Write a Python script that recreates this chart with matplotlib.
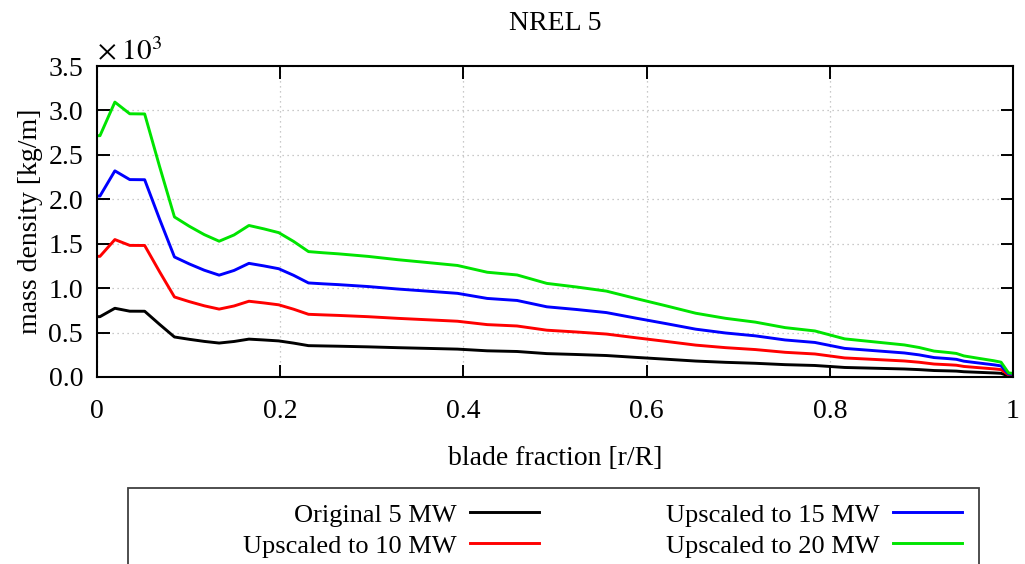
import matplotlib
matplotlib.use("Agg")
import matplotlib.pyplot as plt
from matplotlib.patches import Rectangle

# blade stations (r/R)
blade_fraction = [0.0, 0.00325, 0.01951, 0.03577, 0.05203, 0.06829, 0.08455, 0.10081, 0.11707, 0.13335,
                  0.14959, 0.16585, 0.18211, 0.19837, 0.21465, 0.23089, 0.24716, 0.26342, 0.29595, 0.32846,
                  0.36098, 0.3935, 0.42602, 0.45855, 0.49106, 0.52358, 0.5561, 0.58862, 0.62115, 0.65366,
                  0.68618, 0.7187, 0.75122, 0.78376, 0.81626, 0.84878, 0.8813, 0.89756, 0.91382, 0.93008,
                  0.93821, 0.94636, 0.95447, 0.9626, 0.97073, 0.97886, 0.98699, 0.99512, 1.0]

# mass density [kg/m]
mass_5mw = [678.9, 678.9, 773.4, 740.6, 740.0, 592.5, 450.3, 424.1, 400.6, 382.1,
            399.7, 426.3, 416.8, 406.2, 381.4, 352.8, 349.5, 346.5, 339.3, 330.0,
            322.0, 313.8, 294.7, 287.1, 263.3, 253.2, 241.7, 220.6, 200.3, 179.4,
            165.1, 154.4, 138.9, 129.6, 107.3, 98.8, 90.2, 83.0, 72.9, 68.8,
            66.3, 59.3, 55.9, 52.5, 49.1, 45.8, 41.7, 11.5, 10.3]

mass_10mw = [1357.9, 1357.9, 1546.7, 1481.1, 1480.1, 1185.0, 900.6, 848.1, 801.3, 764.1,
             799.3, 852.6, 833.6, 812.4, 762.8, 705.6, 699.0, 693.1, 678.7, 660.0,
             644.0, 627.6, 589.5, 574.2, 526.7, 506.4, 483.3, 441.3, 400.6, 358.8,
             330.2, 308.8, 277.9, 259.1, 214.5, 197.6, 180.5, 166.0, 145.8, 137.5,
             132.5, 118.7, 111.8, 105.0, 98.2, 91.6, 83.3, 22.9, 20.6]

mass_15mw = [2036.8, 2036.8, 2320.1, 2221.7, 2220.1, 1777.5, 1350.8, 1272.2, 1201.9, 1146.2,
             1199.0, 1279.0, 1250.5, 1218.6, 1144.3, 1058.5, 1048.4, 1039.6, 1018.0, 990.0,
             966.0, 941.5, 884.2, 861.4, 790.0, 759.6, 725.0, 661.9, 600.9, 538.2,
             495.3, 463.2, 416.8, 388.7, 321.8, 296.3, 270.7, 249.0, 218.7, 206.3,
             198.8, 178.0, 167.7, 157.5, 147.3, 137.5, 125.0, 34.4, 31.0]

mass_20mw = [2715.7, 2715.7, 3093.5, 2962.2, 2960.2, 2370.0, 1801.1, 1696.2, 1602.6, 1528.2,
             1598.6, 1705.3, 1667.3, 1624.7, 1525.7, 1411.3, 1397.9, 1386.2, 1357.3, 1320.0,
             1288.0, 1255.3, 1178.9, 1148.5, 1053.4, 1012.8, 966.7, 882.6, 801.2, 717.6,
             660.4, 617.6, 555.7, 518.2, 429.1, 395.1, 361.0, 332.0, 291.6, 275.1,
             265.1, 237.4, 223.7, 209.9, 196.5, 183.3, 166.7, 45.8, 41.3]

series_labels = ["Original 5 MW", "Upscaled to 10 MW", "Upscaled to 15 MW", "Upscaled to 20 MW"]
series_colors = ["black", "#ff0000", "#0000ff", "#00e400"]

x_ticks = [0, 0.2, 0.4, 0.6, 0.8, 1.0]
x_tick_labels = ["0", "0.2", "0.4", "0.6", "0.8", "1"]
y_ticks = [0, 500, 1000, 1500, 2000, 2500, 3000, 3500]

plt.rcParams['font.family'] = ['Liberation Serif', 'DejaVu Serif']
plt.rcParams['mathtext.fontset'] = 'stix'
fs = 20

fig = plt.figure(figsize=(10.25, 5.64), dpi=100)
ax = fig.add_axes([97 / 1025, 1 - 377 / 564, (1013 - 97) / 1025, (377 - 66) / 564])

for vals, lab, col in zip([mass_5mw, mass_10mw, mass_15mw, mass_20mw], series_labels, series_colors):
    ax.plot(blade_fraction, vals, color=col, lw=2.1, label=lab)

ax.set_xlim(0, 1)
ax.set_ylim(0, 3500)
ax.set_xticks(x_ticks)
ax.set_xticklabels(x_tick_labels)
ax.set_yticks(y_ticks)
# ticks shown in units of 10^3
ax.yaxis.set_major_formatter(matplotlib.ticker.FuncFormatter(lambda v, p: f"{v / 1000:.1f}"))
ax.text(0, 1.0, r"$\times\;10^{3}$", transform=ax.transAxes, fontsize=21, ha="left", va="bottom")

ax.grid(True, color="#b8b8b8", lw=0.9, linestyle=(0, (1, 3)))
ax.tick_params(direction="in", top=True, right=True, length=9, width=1.4, labelsize=fs)
ax.tick_params(axis="x", pad=16)
ax.tick_params(axis="y", pad=10)
for s in ax.spines.values():
    s.set_linewidth(1.5)

ax.set_title("NREL 5", fontsize=fs, pad=26)
ax.set_xlabel("blade fraction [r/R]", fontsize=fs, labelpad=16)
ax.set_ylabel("mass density [kg/m]", fontsize=fs, labelpad=4)

# legend, gnuplot-like: text right aligned, sample after it
leg = fig.legend(loc="upper right", bbox_to_anchor=(975 / 1025, 1 - 490 / 564),
                 ncol=2, markerfirst=False, frameon=False, fontsize=19,
                 handlelength=2.6, handletextpad=0.5, columnspacing=4.83,
                 labelspacing=0.28, borderpad=0)
fig.patches.append(Rectangle((128 / 1025, -0.1), (979 - 128) / 1025, 0.1 + 1 - 488 / 564,
                             transform=fig.transFigure, fill=False, ec="#404040", lw=1.3))

fig.savefig("out.png", dpi=100)
